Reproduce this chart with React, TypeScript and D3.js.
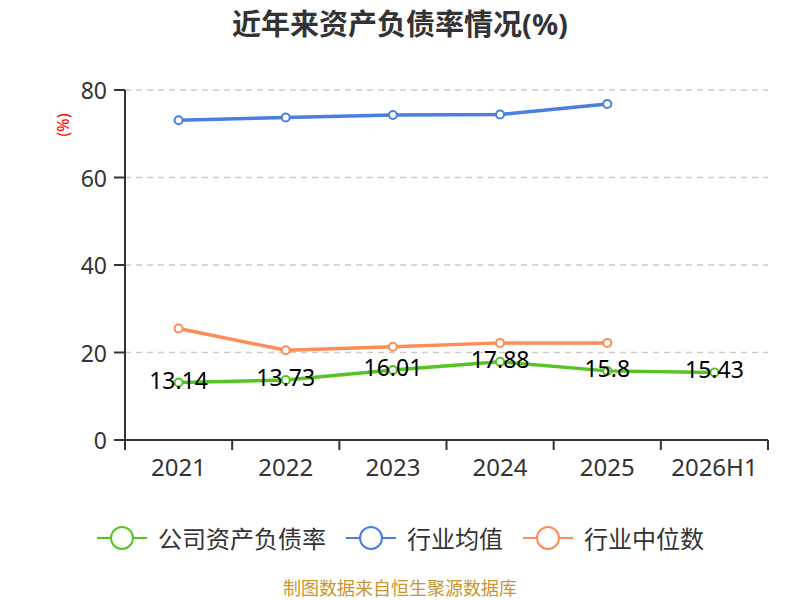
import React from "react";
import * as d3 from "d3";

const categories = ["2021", "2022", "2023", "2024", "2025", "2026H1"];
const companyRatio = [13.14, 13.73, 16.01, 17.88, 15.8, 15.43];
const industryAvg: (number | null)[] = [73.1, 73.7, 74.3, 74.4, 76.8, null];
const industryMedian: (number | null)[] = [25.5, 20.5, 21.3, 22.2, 22.2, null];
const yTicks = [0, 20, 40, 60, 80];
const seriesNames = ["公司资产负债率", "行业均值", "行业中位数"];
const seriesColors = ["#56c423", "#4a7ee0", "#fd8c57"];

const W = 800;
const H = 600;
const left = 125;
const right = 768;
const top = 90;
const bottom = 440;
const FONT = "'Noto Sans', 'Noto Sans CJK SC', sans-serif";

export default function App() {
  const x = d3.scaleBand<string>().domain(categories).range([left, right]);
  const cx = (c: string) => (x(c) as number) + x.bandwidth() / 2;
  const y = d3.scaleLinear().domain([0, 80]).range([bottom, top]);

  const line = d3
    .line<number | null>()
    .defined((d) => d !== null)
    .x((_, i) => cx(categories[i]))
    .y((d) => y(d as number));

  const series = [
    { name: seriesNames[1], color: seriesColors[1], data: industryAvg },
    { name: seriesNames[2], color: seriesColors[2], data: industryMedian },
    { name: seriesNames[0], color: seriesColors[0], data: companyRatio as (number | null)[] },
  ];

  const legendItems = [
    { name: seriesNames[0], color: seriesColors[0], x: 97 },
    { name: seriesNames[1], color: seriesColors[1], x: 346 },
    { name: seriesNames[2], color: seriesColors[2], x: 523 },
  ];

  const boundaries = categories.map((c) => x(c) as number).concat([right]);

  return (
    <svg
      width={W}
      height={H}
      style={{ display: "block", position: "fixed", top: 0, left: 0 }}
      fontFamily={FONT}
    >
      <rect width={W} height={H} fill="#fff" />
      <text x={400} y={23} textAnchor="middle" dominantBaseline="central" fontSize={29} fontWeight="bold" fill="#333">
        近年来资产负债率情况(%)
      </text>

      {/* grid */}
      {yTicks.filter((t) => t > 0).map((t) => (
        <line key={t} x1={left} x2={right} y1={y(t)} y2={y(t)} stroke="#cccccc" strokeWidth={1.5} strokeDasharray="6,5" />
      ))}

      {/* y axis */}
      <line x1={left} x2={left} y1={top} y2={bottom} stroke="#333" strokeWidth={2} />
      {yTicks.map((t) => (
        <g key={t}>
          <line x1={left - 11} x2={left} y1={y(t)} y2={y(t)} stroke="#333" strokeWidth={2} />
          <text x={107} y={y(t)} textAnchor="end" dominantBaseline="central" fontSize={23} fill="#333">
            {t}
          </text>
        </g>
      ))}
      <text transform={`translate(63,125) rotate(-90)`} textAnchor="middle" dominantBaseline="central" fontSize={16} fill="#ff0000">
        (%)
      </text>

      {/* x axis */}
      <line x1={left} x2={right} y1={bottom} y2={bottom} stroke="#333" strokeWidth={2} />
      {boundaries.map((b, i) => (
        <line key={i} x1={b} x2={b} y1={bottom} y2={bottom + 10} stroke="#333" strokeWidth={2} />
      ))}
      {categories.map((c) => (
        <text key={c} x={cx(c)} y={466} textAnchor="middle" dominantBaseline="central" fontSize={24} fill="#333">
          {c}
        </text>
      ))}

      {/* lines */}
      {series.map((s) => (
        <g key={s.name}>
          <path d={line(s.data) || ""} fill="none" stroke={s.color} strokeWidth={3.5} strokeLinejoin="round" />
          {s.data.map((d, i) =>
            d === null ? null : (
              <circle key={i} cx={cx(categories[i])} cy={y(d)} r={4} fill="#fff" stroke={s.color} strokeWidth={2} />
            )
          )}
        </g>
      ))}

      {/* data labels */}
      {companyRatio.map((d, i) => (
        <text key={i} x={cx(categories[i])} y={y(d) - 3} textAnchor="middle" dominantBaseline="central" fontSize={23} fill="#000">
          {d}
        </text>
      ))}

      {/* legend */}
      {legendItems.map((l) => (
        <g key={l.name}>
          <line x1={l.x} x2={l.x + 50} y1={538} y2={538} stroke={l.color} strokeWidth={2} />
          <circle cx={l.x + 25} cy={538} r={11} fill="#fff" stroke={l.color} strokeWidth={2} />
          <text x={l.x + 61} y={538} dominantBaseline="central" fontSize={24} fill="#333">
            {l.name}
          </text>
        </g>
      ))}

      <text x={400} y={588} textAnchor="middle" dominantBaseline="central" fontSize={18} fill="#c8962e">
        制图数据来自恒生聚源数据库
      </text>
    </svg>
  );
}
